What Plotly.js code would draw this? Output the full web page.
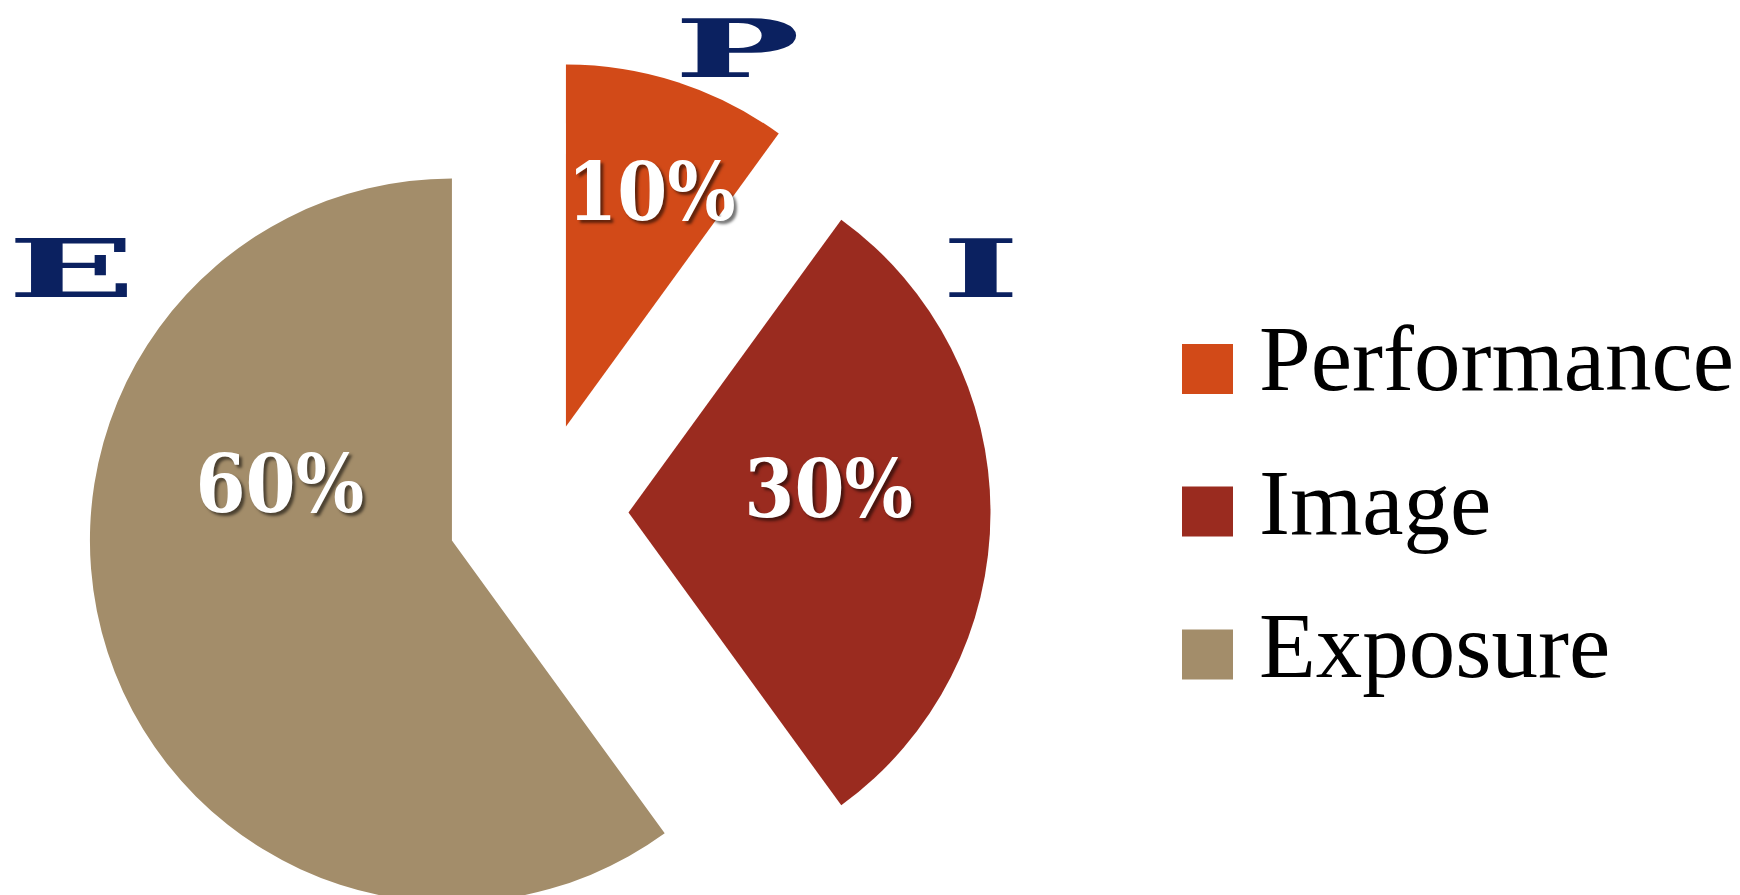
<!DOCTYPE html>
<html>
<head>
<meta charset="utf-8">
<script src="https://cdn.plot.ly/plotly-3.0.1.min.js"></script>
<style>
  html, body { margin: 0; padding: 0; background: #ffffff; overflow: hidden; }
  #wrap { width: 1740px; height: 895px; overflow: hidden; position: relative; }
  /* extended look for the big initials */
  g.annotation[data-index="0"] text.annotation-text,
  g.annotation[data-index="1"] text.annotation-text,
  g.annotation[data-index="2"] text.annotation-text {
    transform-box: fill-box; transform-origin: center; transform: scaleX(2.1);
  }
</style>
</head>
<body>
<div id="wrap"><div id="chart"></div></div>
<script>
// ---- data ----
const categories = ["Performance", "Image", "Exposure"];
const shares = [10, 30, 60];
const initials = ["P", "I", "E"];
const sliceColors = ["#d24a18", "#9a2b1f", "#a38d6a"];
const labelTemplates = [
  "<span style='font-size:30px'>&nbsp;</span><br>%{percent:.0%}",
  "<span style='font-size:10px'>&nbsp;</span><br>%{percent:.0%}<br><span style='font-size:2px'>&nbsp;</span>",
  "%{percent:.0%}<br>&nbsp;<br><span style='font-size:148px'>&nbsp;</span>"
];

// ---- layout geometry (page pixels) ----
const W = 1740, H = 965, MT = 60, MB = 0;
const PH = H - MT - MB;
const px2x = px => px / W;
const py2y = py => 1 - (py - MT) / PH;

const pie = {
  type: "pie",
  labels: categories,
  values: shares,
  sort: false,
  direction: "clockwise",
  rotation: 0,
  pull: [0.25, 0.25, 0.25],
  marker: { colors: sliceColors, line: { width: 0 } },
  texttemplate: labelTemplates,
  textposition: "inside",
  insidetextorientation: "horizontal",
  insidetextfont: {
    family: "DejaVu Serif Condensed",
    size: 80,
    color: "#ffffff",
    weight: "bold",
    shadow: "3px 3px 3px rgba(0,0,0,0.55)"
  },
  hoverinfo: "label+percent",
  domain: { x: [px2x(85.5), px2x(990.5)], y: [0, 1] },
  showlegend: false
};

// big initials
const letterPos = [[737, 0, "top"], [980, 269, "middle"], [71, 269, "middle"]];
const annotations = [];
const shapes = [];
initials.forEach((t, i) => {
  annotations.push({
    xref: "paper", yref: "paper",
    x: px2x(letterPos[i][0]), y: py2y(letterPos[i][1]),
    xanchor: "center", yanchor: letterPos[i][2],
    text: t, showarrow: false,
    font: { family: "DejaVu Serif", size: 80, color: "#0b2160", weight: "bold" }
  });
});

// custom legend (large square swatches like the reference)
const legendRows = [369, 511.5, 654.5];
const legendCaps = [358.5, 502.5, 645.5];
categories.forEach((c, i) => {
  const yc = legendRows[i];
  shapes.push({
    type: "rect", xref: "paper", yref: "paper",
    x0: px2x(1182), x1: px2x(1233),
    y0: py2y(yc + 25), y1: py2y(yc - 25),
    fillcolor: sliceColors[i], line: { width: 0 }
  });
  annotations.push({
    xref: "paper", yref: "paper",
    x: px2x(1257), y: py2y(legendCaps[i]),
    xanchor: "left", yanchor: "middle",
    text: c, showarrow: false,
    font: { family: "Liberation Serif", size: 93, color: "#000000" }
  });
});

const layout = {
  width: W, height: H,
  margin: { l: 0, r: 0, t: MT, b: MB, pad: 0 },
  paper_bgcolor: "#ffffff",
  plot_bgcolor: "#ffffff",
  showlegend: false,
  uniformtext: { mode: "show", minsize: 80 },
  annotations: annotations,
  shapes: shapes
};

Plotly.newPlot("chart", [pie], layout, { displayModeBar: false, staticPlot: true });
</script>
</body>
</html>
